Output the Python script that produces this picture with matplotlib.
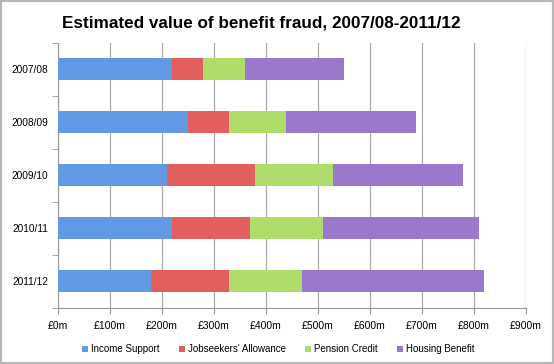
import matplotlib
matplotlib.use("Agg")
import matplotlib.pyplot as plt
from matplotlib.patches import Rectangle
import numpy as np

plt.rcParams['font.family'] = ['Liberation Sans', 'DejaVu Sans']

years = ["2007/08", "2008/09", "2009/10", "2010/11", "2011/12"]
series_names = ["Income Support", "Jobseekers' Allowance", "Pension Credit", "Housing Benefit"]
income_support = [220, 250, 210, 220, 180]
jobseekers = [60, 80, 170, 150, 150]
pension_credit = [80, 110, 150, 140, 140]
housing_benefit = [190, 250, 250, 300, 350]
xticks = [0, 100, 200, 300, 400, 500, 600, 700, 800, 900]
xtick_labels = ["£0m", "£100m", "£200m", "£300m", "£400m", "£500m", "£600m", "£700m", "£800m", "£900m"]
colors = ["#6398e2", "#e35f5d", "#b0dc6c", "#9a78cc"]

fig = plt.figure(figsize=(5.54, 3.64), dpi=100)
ax = fig.add_axes([0.1042, 0.1547, 0.8444, 0.7277])

y = np.arange(len(years))
left = np.zeros(len(years))
for name, vals, c in zip(series_names, [income_support, jobseekers, pension_credit, housing_benefit], colors):
    ax.barh(y, vals, left=left, height=0.41, color=c, label=name, zorder=3)
    left += np.array(vals)

ax.set_ylim(len(years) - 0.5, -0.5)
ax.set_xlim(0, 900)
ax.set_xticks(xticks)
ax.set_xticklabels(xtick_labels, fontsize=7.5)
ax.set_yticks(y)
ax.set_yticklabels(years, fontsize=7.3)
ax.set_yticks(np.arange(-0.5, len(years) + 0.5, 1), minor=True)
ax.tick_params(axis='y', which='major', length=0, pad=7)
ax.tick_params(axis='y', which='minor', length=4, color='#999999', direction='out')
ax.tick_params(axis='x', length=4, color='#999999', direction='out', pad=5.5)
ax.grid(axis='x', color='#ababab', linewidth=0.9, zorder=0)
ax.spines['top'].set_visible(False)
ax.spines['right'].set_visible(False)
ax.spines['left'].set_color('#999999')
ax.spines['bottom'].set_color('#999999')

fig.suptitle("Estimated value of benefit fraud, 2007/08-2011/12", fontsize=12.3,
             fontweight='bold', x=0.472, y=0.958)

leg = fig.legend(loc='center', bbox_to_anchor=(0.502, 0.041), ncol=4, frameon=False,
                 fontsize=7, handlelength=0.6, handleheight=0.6, handletextpad=0.3,
                 columnspacing=2.0)

fig.patches.append(Rectangle((0, 0), 1, 1, transform=fig.transFigure, fill=False,
                             edgecolor='#b8b8b8', linewidth=3))

fig.savefig("out.png", dpi=100)
